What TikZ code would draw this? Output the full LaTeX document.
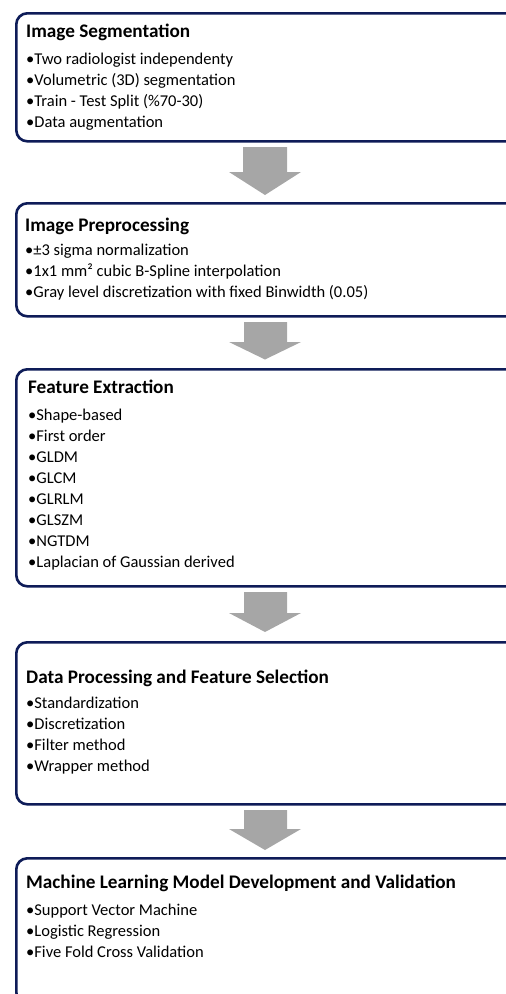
\documentclass[tikz,border=0pt]{standalone}
\usepackage{fontspec}
\setmainfont{Carlito}
\definecolor{navy}{RGB}{14,28,88}
\definecolor{arrowgray}{RGB}{166,166,166}
\tikzset{
  stagebox/.style={draw=navy, line width=2.6pt, rounded corners=11pt, fill=white, anchor=north west, minimum width=520pt, inner sep=0pt},
  ttl/.style={anchor=base west, inner sep=0pt, font=\fontsize{19.2}{22}\selectfont\bfseries},
  bl/.style={anchor=base west, inner sep=0pt, font=\fontsize{16.5}{20}\selectfont},
  blockarrow/.style={fill=arrowgray, draw=none}
}
\newcommand{\bulletlist}[4]{% name, x, y of first baseline, items
  \foreach \txt [count=\i from 0] in {#4}
    \node[bl] (#1-\i) at (#2,{#3-21.1*\i}) {\textbullet\txt};
}
\begin{document}
\begin{tikzpicture}[x=1pt,y=1pt]
\useasboundingbox (0,0) rectangle (506,-994);
\clip (0,0) rectangle (506,-994);
% boxes
\node[stagebox, minimum height=128pt] (b1) at (15,-12) {};
\node[stagebox, minimum height=113pt] (b2) at (15,-202) {};
\node[stagebox, minimum height=217pt] (b3) at (15,-368) {};
\node[stagebox, minimum height=162pt] (b4) at (15,-641) {};
\node[stagebox, minimum height=145pt] (b5) at (15,-857) {};
% texts
\node[ttl] (t1) at (26,-37) {Image Segmentation};
\bulletlist{l1}{26}{-64}{{Two radiologist independenty},{Volumetric (3D) segmentation},{Train - Test Split (\%70-30)},{Data augmentation}}
\node[ttl] (t2) at (25,-231) {Image Preprocessing};
\bulletlist{l2}{25}{-255.5}{{±3 sigma normalization},{1x1 mm² cubic B-Spline interpolation},{Gray level discretization with fixed Binwidth (0.05)}}
\node[ttl] (t3) at (28,-393) {Feature Extraction};
\bulletlist{l3}{28}{-420}{{Shape-based},{First order},{GLDM},{GLCM},{GLRLM},{GLSZM},{NGTDM},{Laplacian of Gaussian derived}}
\node[ttl] (t4) at (26,-683) {Data Processing and Feature Selection};
\bulletlist{l4}{26}{-708}{{Standardization},{Discretization},{Filter method},{Wrapper method}}
\node[ttl] (t5) at (26,-888) {Machine Learning Model Development and Validation};
\bulletlist{l5}{26}{-915}{{Support Vector Machine},{Logistic Regression},{Five Fold Cross Validation}}
% block arrows
\fill[blockarrow] (243,-147) -- (287,-147) -- (287,-172) -- (301,-172) -- (265,-195) -- (229,-172) -- (243,-172) -- cycle;
\fill[blockarrow] (244,-322) -- (287,-322) -- (287,-342) -- (301,-342) -- (265,-359.5) -- (229,-342) -- (244,-342) -- cycle;
\fill[blockarrow] (244,-592) -- (287,-592) -- (287,-613) -- (301,-613) -- (265,-632) -- (229,-613) -- (244,-613) -- cycle;
\fill[blockarrow] (244,-810) -- (287,-810) -- (287,-829) -- (301,-829) -- (265,-850) -- (229,-829) -- (244,-829) -- cycle;
\end{tikzpicture}
\end{document}
